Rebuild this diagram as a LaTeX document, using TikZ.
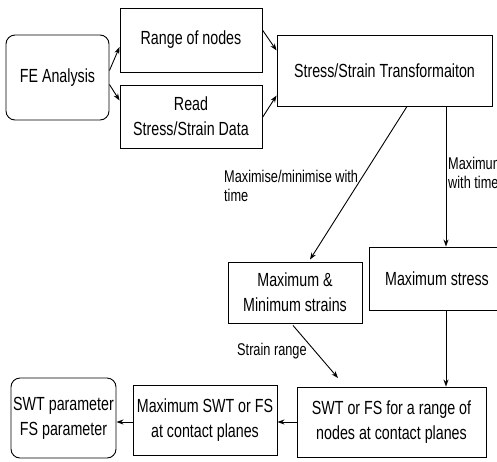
\documentclass[tikz,border=0pt]{standalone}
\usepackage{fontspec}
\setmainfont{Liberation Sans}[FakeStretch=0.75]
\usetikzlibrary{arrows.meta,calc}
\begin{document}
\begin{tikzpicture}[x=1pt,y=-1pt,
 box/.style={draw, line width=0.9pt, inner sep=0pt, align=center, font=\fontsize{19}{25}\selectfont},
 rbox/.style={box, rounded corners=9pt},
 lbl/.style={inner sep=0pt, align=left, font=\fontsize{17}{19}\selectfont, anchor=north west},
 arr/.style={line width=0.9pt, -{Stealth[length=7pt,width=5pt]}}]
\useasboundingbox (0,0) rectangle (497,461);
\clip (0,0) rectangle (497,461);
\node[rbox, minimum width=103pt, minimum height=85pt] (FE) at (57.5,77.5) {FE Analysis};
\node[box, minimum width=142pt, minimum height=64pt] (Range) at (191,40) {Range of nodes};
\node[box, minimum width=142pt, minimum height=63pt] (Read) at (191,116.5) {Read\\Stress/Strain Data};
\node[box, minimum width=215pt, minimum height=71pt] (Stress) at (384.5,70.5) {Stress/Strain Transformaiton};
\node[box, minimum width=134pt, minimum height=61pt] (MaxMin) at (295,292.5) {Maximum \&\\Minimum strains};
\node[box, minimum width=136pt, minimum height=63pt] (MaxStress) at (437,278.5) {Maximum stress};
\node[box, minimum width=189pt, minimum height=70pt] (SWT) at (391.5,422) {SWT or FS for a range of\\nodes at contact planes};
\node[box, minimum width=144pt, minimum height=70pt] (MaxSWT) at (205,420) {Maximum SWT or FS\\at contact planes};
\node[rbox, minimum width=105pt, minimum height=80pt] (Param) at (63.5,418) {SWT parameter\\FS parameter};

\coordinate (vx) at (446,0);
\coordinate (sr) at (338,378);

\draw[arr] ($(FE.east)+(0,-7)$) -- ($(Range.west)+(0,7)$);
\draw[arr] ($(FE.east)+(0,7)$) -- ($(Read.west)+(0,-16)$);
\draw[arr] ($(Range.east)+(0,-10)$) -- ($(Stress.west)+(0,-20)$);
\draw[arr] ($(Read.east)+(0,1)$) -- ($(Stress.west)+(0,25)$);
\draw[arr] ($(Stress.south)+(22.5,0)$) -- ($(MaxMin.north)+(15,-2)$);
\draw[arr] (Stress.south -| vx) -- (MaxStress.north -| vx);
\draw[arr] (MaxStress.south -| vx) -- (SWT.north -| vx);
\draw[arr] ($(MaxMin.south)+(-2,2)$) -- (sr);
\draw[arr] (SWT.west) -- (SWT.west -| MaxSWT.east);
\draw[arr] ($(MaxSWT.west)+(0,2)$) -- ($(MaxSWT.west -| Param.east)+(0,2)$);

\node[lbl] (l1) at (224,170) {Maximise/minimise with\\time};
\node[lbl] (l2) at (448,157) {Maximum\\with time};
\node[lbl] (l3) at (237,343) {Strain range};
\end{tikzpicture}
\end{document}
